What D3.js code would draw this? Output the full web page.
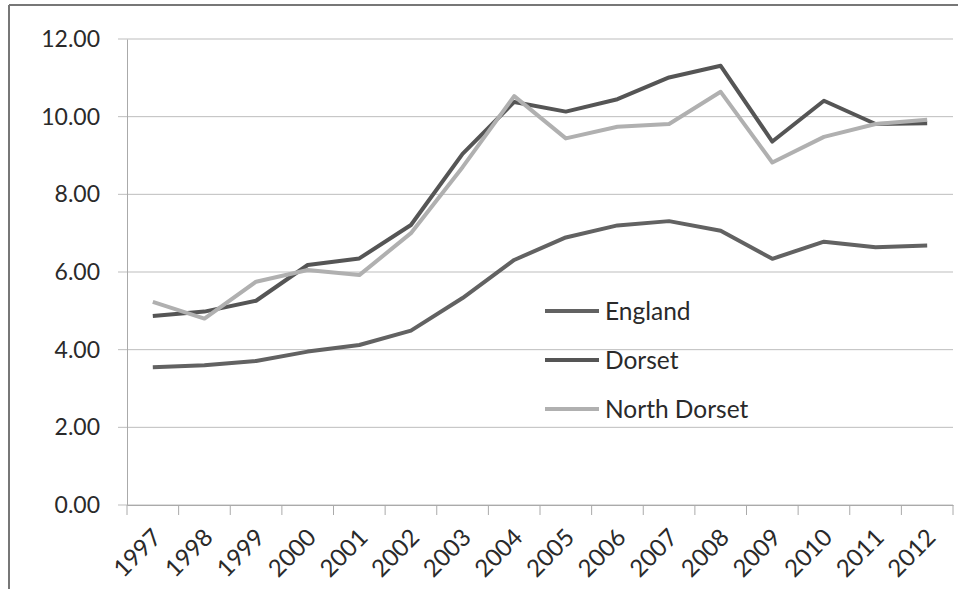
<!DOCTYPE html>
<html><head><meta charset="utf-8">
<script src="https://cdn.jsdelivr.net/npm/d3@7"></script>
<style>
html,body{margin:0;padding:0;background:#fff;}
svg{display:block;}
</style></head>
<body>
<script>
const years = ["1997","1998","1999","2000","2001","2002","2003","2004","2005","2006","2007","2008","2009","2010","2011","2012"];
const england = [3.55,3.60,3.71,3.95,4.12,4.49,5.33,6.31,6.89,7.20,7.31,7.06,6.34,6.78,6.64,6.68];
const dorset = [4.87,4.98,5.26,6.18,6.35,7.21,9.04,10.38,10.13,10.45,11.01,11.31,9.36,10.41,9.81,9.83];
const northDorset = [5.23,4.80,5.75,6.05,5.92,7.00,8.70,10.53,9.44,9.74,9.81,10.64,8.82,9.48,9.81,9.92];
const yTicks = [0,2,4,6,8,10,12];
const seriesNames = ["England","Dorset","North Dorset"];
const seriesColors = ["#626262","#555555","#b0b0b0"];
const seriesValues = [england, dorset, northDorset];

(function(){
const W = 958, H = 589;
const svg = d3.select("body").append("svg").attr("width", W).attr("height", H);
const font = "Lato, 'Open Sans', sans-serif";

svg.append("line").attr("x1",9).attr("x2",9).attr("y1",5).attr("y2",H).attr("stroke","#777").attr("stroke-width",2);
svg.append("line").attr("x1",9).attr("x2",W).attr("y1",5).attr("y2",5).attr("stroke","#777").attr("stroke-width",2);

const pl = 127, pr = 953, pt = 39, pb = 505;
const x = d3.scaleBand().domain(years).range([pl, pr]);
const y = d3.scaleLinear().domain([0, 12]).range([pb, pt]);

svg.append("g").selectAll("line").data(yTicks).join("line")
  .attr("x1", pl - 9).attr("x2", pr)
  .attr("y1", d => y(d)).attr("y2", d => y(d))
  .attr("stroke", "#bdbdbd").attr("stroke-width", 1);

const yAxis = svg.append("g").attr("transform", `translate(${pl},0)`)
  .call(d3.axisLeft(y).tickValues(yTicks).tickSize(0).tickPadding(27).tickFormat(d3.format(".2f")));
yAxis.select(".domain").attr("stroke", "#aaa");
yAxis.selectAll("text").attr("font-family", font).attr("font-size", 23).attr("fill", "#2a2a2a");

const xAxis = svg.append("g").attr("transform", `translate(0,${pb})`)
  .call(d3.axisBottom(x).tickSize(0).tickPadding(0));
xAxis.select(".domain").attr("stroke", "#aaa");
xAxis.selectAll(".tick line").remove();
xAxis.selectAll("text")
  .attr("font-family", font).attr("font-size", 24).attr("fill", "#2a2a2a")
  .attr("text-anchor", "end")
  .attr("dy", 0)
  .attr("transform", "translate(10,34) rotate(-45)");
const bounds = years.map(d => x(d)).concat([x(years[years.length-1]) + x.bandwidth()]);
svg.append("g").selectAll("line").data(bounds).join("line")
  .attr("x1", d => d).attr("x2", d => d)
  .attr("y1", pb).attr("y2", pb + 10)
  .attr("stroke", "#aaa");

const line = d3.line().x((d, i) => x(years[i]) + x.bandwidth() / 2).y(d => y(d));
svg.append("g").selectAll("path").data([0,1,2]).join("path")
  .attr("d", i => line(seriesValues[i]))
  .attr("fill", "none")
  .attr("stroke", i => seriesColors[i])
  .attr("stroke-width", 4)
  .attr("stroke-linejoin", "round");

const lg = svg.append("g");
const ly = [311, 360, 409];
seriesNames.forEach((n, i) => {
  lg.append("line").attr("x1", 545).attr("x2", 599).attr("y1", ly[i]).attr("y2", ly[i])
    .attr("stroke", seriesColors[i]).attr("stroke-width", 4);
  lg.append("text").attr("x", 605).attr("y", ly[i]).attr("dy", "0.35em")
    .attr("font-family", font).attr("font-size", 24.5).attr("fill", "#2a2a2a").text(n);
});
})();
</script>
</body></html>
